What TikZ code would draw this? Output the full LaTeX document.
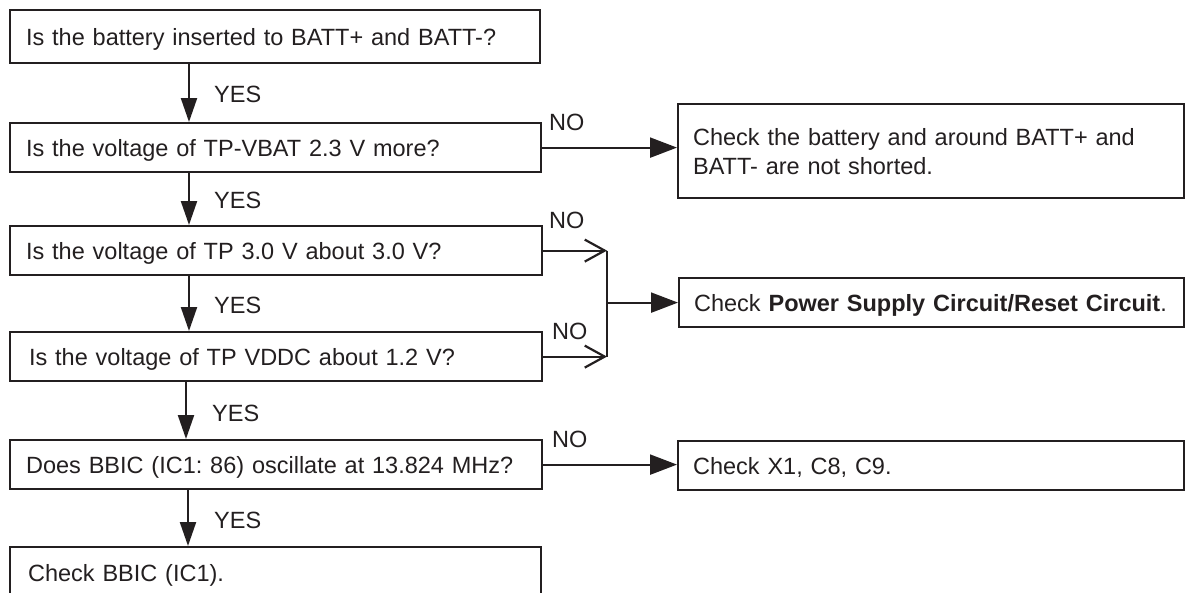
\documentclass[tikz,border=0pt]{standalone}
\usepackage{fontspec}
\setmainfont{Liberation Sans}
\usetikzlibrary{arrows.meta}
\definecolor{ink}{HTML}{231F20}
\frenchspacing
\tikzset{
  box/.style={draw=ink, line width=2.2pt, rectangle, anchor=north west,
    inner xsep=16pt, inner ysep=0pt, align=left, text depth=0pt,
    font=\fontsize{23.5}{29}\selectfont, text=ink},
  lbl/.style={anchor=west, inner sep=0pt, font=\fontsize{23.5}{29}\selectfont, text=ink},
  conn/.style={draw=ink, line width=2.2pt},
  varr/.style={conn, -{Triangle[length=24pt, width=16pt]}},
  harr/.style={conn, -{Triangle[length=27pt, width=20pt]}},
  oarr/.style={conn, -{Straight Barb[length=20pt, width=22pt, line width=2.2pt]}}
}
\begin{document}
\begin{tikzpicture}[x=1pt, y=-1pt]
\useasboundingbox (0,0) rectangle (1185,592);
% left column
\node[box, text width=498pt, minimum height=53pt] (b1) at (9,9) {Is the battery inserted to BATT+ and BATT-?};
\node[box, text width=499pt, minimum height=49pt] (b2) at (9,122) {Is the voltage of TP-VBAT 2.3 V more?};
\node[box, text width=500pt, minimum height=49pt] (b3) at (9,225) {Is the voltage of TP 3.0 V about 3.0 V?};
\node[box, text width=494pt, minimum height=49pt, inner xsep=19pt] (b4) at (9,331) {Is the voltage of TP VDDC about 1.2 V?};
\node[box, text width=500pt, minimum height=49pt] (b5) at (9,439) {Does BBIC (IC1: 86) oscillate at 13.824 MHz?};
\node[box, text width=495pt, minimum height=52pt, inner xsep=18pt] (b6) at (9,546) {Check BBIC (IC1).};
% right column
\node[box, text width=476pt, minimum height=94pt, inner xsep=15pt, text depth=29pt] (rA) at (677,103) {Check the battery and around BATT+ and\\BATT- are not shorted.};
\node[box, text width=475pt, minimum height=49pt, inner xsep=15pt] (rB) at (678,277) {Check \textbf{Power Supply Circuit/Reset Circuit}.};
\node[box, text width=476pt, minimum height=49pt, inner xsep=15pt] (rC) at (677,440) {Check X1, C8, C9.};
% YES arrows
\draw[varr] ([xshift=180pt]b1.south west) -- ([xshift=180pt]b2.north west);
\draw[varr] ([xshift=180pt]b2.south west) -- ([xshift=180pt]b3.north west);
\draw[varr] ([xshift=180pt]b3.south west) -- ([xshift=180pt]b4.north west);
\draw[varr] ([xshift=177pt]b4.south west) -- ([xshift=177pt]b5.north west);
\draw[varr] ([xshift=179pt]b5.south west) -- ([xshift=179pt]b6.north west);
\node[lbl] (y1) at (214,94) {YES};
\node[lbl] (y2) at (214,200) {YES};
\node[lbl] (y3) at (214,305) {YES};
\node[lbl] (y4) at (212,413) {YES};
\node[lbl] (y5) at (214,520) {YES};
% NO branches
\coordinate (m) at (607,303);
\draw[harr] (b2.east) -- (b2.east -| rA.west);
\draw[oarr] (b3.east) -- (b3.east -| m);
\draw[oarr] (b4.east) -- (b4.east -| m);
\draw[conn] (b3.east -| m) -- (b4.east -| m);
\draw[harr] (rB.west -| m) -- (rB.west);
\draw[harr] (b5.east) -- (b5.east -| rC.west);
\node[lbl] (n1) at (549,122) {NO};
\node[lbl] (n2) at (549,220) {NO};
\node[lbl] (n3) at (552,331) {NO};
\node[lbl] (n4) at (552,439) {NO};
\end{tikzpicture}
\end{document}
